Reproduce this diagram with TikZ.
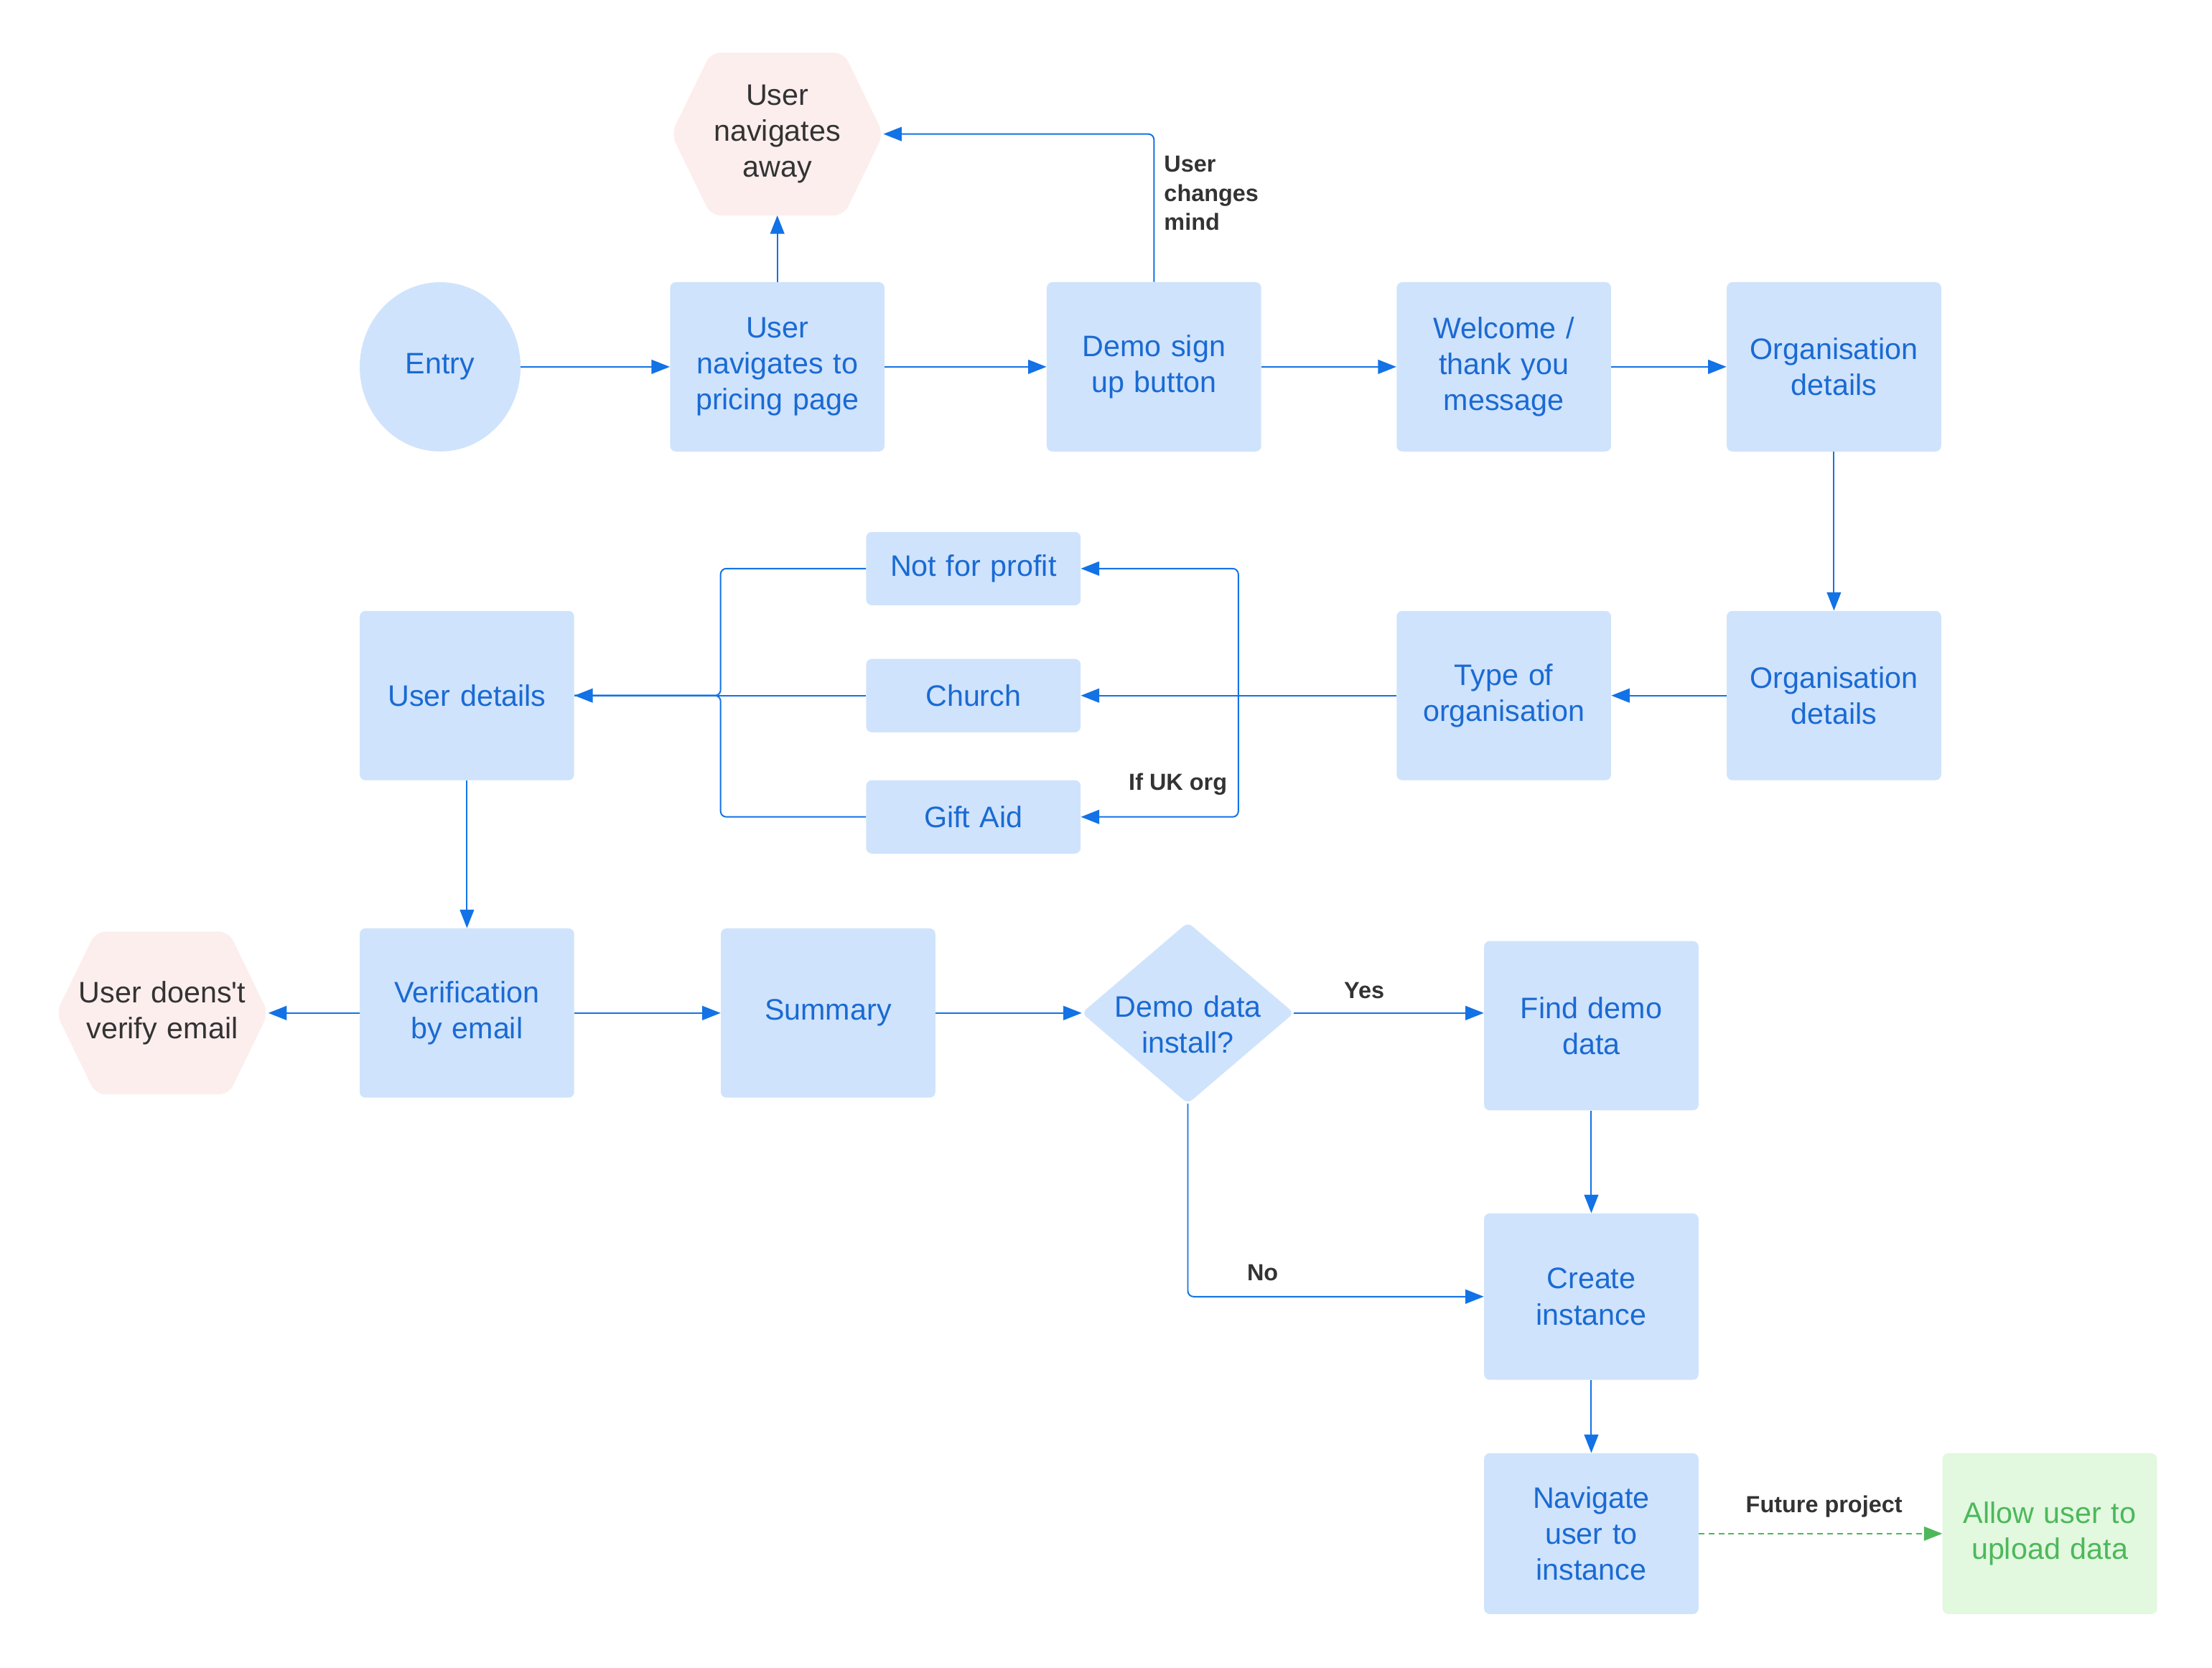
\documentclass[tikz,border=0pt]{standalone}
\usepackage{fontspec}
\setmainfont{Liberation Sans}[Ligatures=TeXOff]
\usetikzlibrary{arrows.meta,shapes.geometric,backgrounds}
\definecolor{boxfill}{HTML}{CFE3FC}
\definecolor{boxtext}{HTML}{1A6AD3}
\definecolor{linec}{HTML}{1272E6}
\definecolor{pinkfill}{HTML}{FDEEEE}
\definecolor{darktext}{HTML}{333333}
\definecolor{greenfill}{HTML}{E2F8DF}
\definecolor{greentext}{HTML}{4DB85B}
\begin{document}
\begin{tikzpicture}[x=1pt,y=-1pt,
  boxbase/.style={rounded corners=4pt, align=center, inner sep=0pt, text width=148pt,
    font=\fontsize{21}{25.5}\selectfont},
  box/.style={boxbase, fill=boxfill, text=boxtext, minimum width=152pt, minimum height=120pt},
  smallbox/.style={box, minimum height=52pt},
  hexnode/.style={boxbase, text=darktext, minimum width=150pt, minimum height=115pt},
  plainnode/.style={boxbase, text=boxtext, minimum width=150pt, minimum height=128pt},
  lab/.style={font=\bfseries\fontsize{16.5}{20.5}\selectfont, text=darktext, inner sep=0pt, align=left},
  conn/.style={draw=linec, line width=1pt, -{Triangle[length=13pt,width=10pt]}},
  plainline/.style={draw=linec, line width=1pt},
  gconn/.style={draw=greentext, line width=1pt, dashed, dash pattern=on 4pt off 3pt, -{Triangle[length=13pt,width=10pt]}},
]
\useasboundingbox (0,0) rectangle (1568,1182);

% nodes
\node[ellipse, fill=boxfill, text=boxtext, minimum width=114pt, minimum height=120pt, inner sep=0pt,
  font=\fontsize{21}{25.5}\selectfont] (entry) at (312,260) {Entry};
\node[box] (pricing) at (551,260) {User\\navigates to\\pricing page};
\node[box] (demo) at (818,260) {Demo sign\\up button};
\node[box] (welcome) at (1066,260) {Welcome /\\thank you\\message};
\node[box] (org1) at (1300,260) {Organisation\\details};
\node[hexnode] (away) at (551,95) {User\\navigates\\away};

\node[box] (org2) at (1300,493) {Organisation\\details};
\node[box] (type) at (1066,493) {Type of\\organisation};
\node[smallbox] (notprofit) at (690,403) {Not for profit};
\node[smallbox] (church) at (690,493) {Church};
\node[smallbox] (giftaid) at (690,579) {Gift Aid};
\node[box] (userdetails) at (331,493) {User details};

\node[box] (verif) at (331,718) {Verification\\by email};
\node[hexnode] (noverify) at (115,718) {User doens't\\verify email};
\node[box] (summary) at (587,718) {Summary};
\node[plainnode] (dd) at (842,718) {};
\node[boxbase, text=boxtext] (ddtext) at (842,726) {Demo data\\install?};
\node[box] (finddemo) at (1128,727) {Find demo\\data};
\node[box, minimum height=118pt] (create) at (1128,919) {Create\\instance};
\node[box, minimum height=114pt] (navigate) at (1128,1087) {Navigate\\user to\\instance};
\node[box, fill=greenfill, text=greentext, minimum height=114pt] (allow) at (1453,1087) {Allow user to\\upload data};

% background shapes
\begin{pgfonlayer}{background}
\fill[pinkfill, rounded corners=7pt] (away.west) -- ([xshift=28pt]away.north west) -- ([xshift=-28pt]away.north east)
  -- (away.east) -- ([xshift=-28pt]away.south east) -- ([xshift=28pt]away.south west) -- cycle;
\fill[pinkfill, rounded corners=7pt] (noverify.west) -- ([xshift=28pt]noverify.north west) -- ([xshift=-28pt]noverify.north east)
  -- (noverify.east) -- ([xshift=-28pt]noverify.south east) -- ([xshift=28pt]noverify.south west) -- cycle;
\fill[boxfill, rounded corners=4pt] (dd.west) -- (dd.north) -- (dd.east) -- (dd.south) -- cycle;
\end{pgfonlayer}

% connectors row 1
\draw[conn] (entry) -- (pricing);
\draw[conn] (pricing) -- (demo);
\draw[conn] (demo) -- (welcome);
\draw[conn] (welcome) -- (org1);
\draw[conn] (pricing.north) -- (away.south);
\draw[conn, rounded corners=4pt] (demo.north) |- (away.east);
\node[lab, anchor=west] (lchange) at (825,137) {User\\changes\\mind};

% row 2
\draw[conn] (org1) -- (org2);
\draw[conn] (org2) -- (type);
\draw[conn] (type) -- (church);
\draw[conn, rounded corners=4pt] (type.west) ++(-112,0) |- (notprofit.east);
\draw[conn, rounded corners=4pt] (type.west) ++(-112,0) |- (giftaid.east);
\node[lab, anchor=east] (luk) at (870,556) {If UK org};
\draw[plainline, rounded corners=4pt] (notprofit.west) -- ++(-103,0) |- (userdetails.east);
\draw[plainline, rounded corners=4pt] (giftaid.west) -- ++(-103,0) |- (userdetails.east);
\draw[conn] (church) -- (userdetails);

% row 3
\draw[conn] (userdetails) -- (verif);
\draw[conn] (verif) -- (noverify);
\draw[conn] (verif) -- (summary);
\draw[conn] (summary) -- (dd);
\draw[conn] (dd.east) -- (dd.east -| finddemo.west);
\node[lab] (lyes) at (967,702) {Yes};
\draw[conn, rounded corners=4pt] (dd.south) |- (create.west);
\node[lab] (lno) at (895,902) {No};
\draw[conn] (finddemo) -- (create);
\draw[conn] (create) -- (navigate);
\draw[gconn] (navigate) -- (allow);
\node[lab] (lfut) at (1293,1068) {Future project};
\end{tikzpicture}
\end{document}
